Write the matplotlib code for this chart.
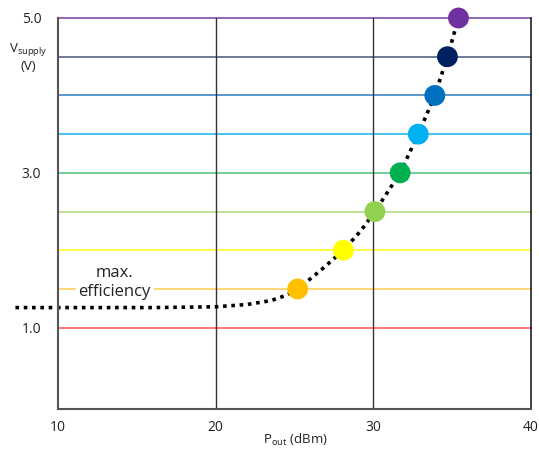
import numpy as np
import matplotlib.pyplot as plt

plt.rcParams['font.family'] = ['Open Sans', 'DejaVu Sans']

# supply levels and their colours
v_levels = [1.0, 1.5, 2.0, 2.5, 3.0, 3.5, 4.0, 4.5, 5.0]
line_colors = ['#ff6b6b', '#ffd36b', '#ffff33', '#b5de8c', '#66c98f',
               '#33c0f2', '#4f8fc9', '#5f7090', '#8a5cb0']

# max-efficiency points (Pout dBm, Vsupply V)
pts_p = [25.2, 28.1, 30.1, 31.7, 32.85, 33.9, 34.7, 35.4]
pts_v = [1.5, 2.0, 2.5, 3.0, 3.5, 4.0, 4.5, 5.0]
dot_colors = ['#ffc000', '#ffff00', '#92d050', '#00b050',
              '#00b0f0', '#0070c0', '#002060', '#7030a0']

# dotted max. efficiency trajectory
curve_p = [7.3, 12, 16, 20, 22, 23.5, 24.5, 25.2, 26.6, 28.1, 29.2, 30.1,
           31.7, 32.85, 33.9, 34.7, 35.4]
curve_v = [1.26, 1.26, 1.26, 1.27, 1.30, 1.35, 1.42, 1.5, 1.73, 2.0, 2.25, 2.5,
           3.0, 3.5, 4.0, 4.5, 5.0]

xticks = [10, 20, 30, 40]
yticks = [1.0, 3.0, 5.0]

fig = plt.figure(figsize=(5.39, 4.5), dpi=100)
ax = fig.add_axes([58 / 539, 1 - 409 / 450, 473 / 539, 391 / 450])

for v, c in zip(v_levels, line_colors):
    ax.axhline(v, color=c, lw=1.3, zorder=1, clip_on=False)
for x in [20, 30]:
    ax.axvline(x, color='#333333', lw=1, zorder=1)

ax.plot(curve_p, curve_v, color='black', lw=2.6, dashes=(1, 1.3),
        zorder=2, clip_on=False)
ax.scatter(pts_p, pts_v, s=15 ** 2, c=dot_colors, zorder=3, clip_on=False,
           edgecolors='none')

ax.text(13.6, 1.58, 'max.\nefficiency', ha='center', va='center',
        fontsize=12, linespacing=1.25, zorder=2, color='#222222',
        bbox=dict(facecolor='white', edgecolor='none', pad=2))

ax.set_xlim(10, 40)
ax.set_ylim(-0.05, 5.0)
ax.set_xticks(xticks)
ax.set_xticklabels([str(t) for t in xticks])
ax.set_yticks(yticks)
ax.set_yticklabels(['%.1f' % t for t in yticks])
ax.tick_params(length=0, labelsize=10, colors='#222222')
ax.tick_params(axis='x', pad=8)
ax.tick_params(axis='y', pad=12)

ax.spines['top'].set_visible(False)
for s in ['left', 'bottom']:
    ax.spines[s].set_color('#555555')
    ax.spines[s].set_linewidth(1.5)
ax.spines['right'].set_color('#222222')
ax.spines['right'].set_linewidth(1.2)

fig.text(295 / 539, 1 - 440 / 450, r'P$_{\mathregular{out}}$ (dBm)',
         ha='center', va='center', fontsize=9.5, color='#222222')
fig.text(28 / 539, 1 - 57 / 450, 'V$_{\\mathregular{supply}}$\n(V)',
         ha='center', va='center', fontsize=9.5, linespacing=1.25,
         color='#222222')

fig.savefig('out.png', dpi=100)
